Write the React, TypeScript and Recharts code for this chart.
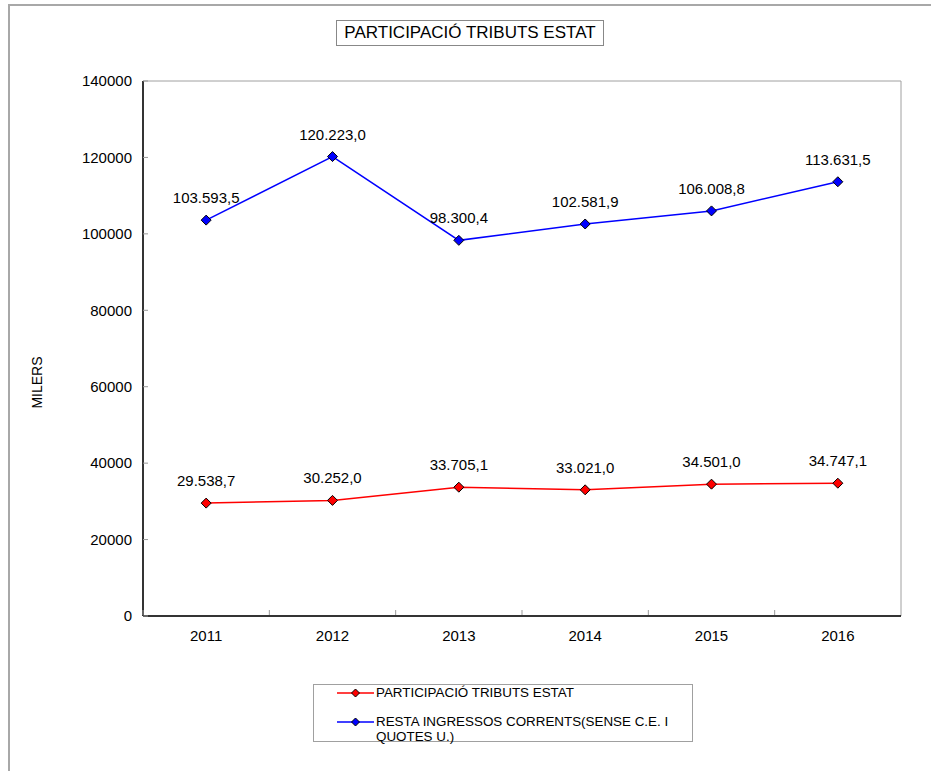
import React from 'react';
import { LineChart, Line, XAxis, YAxis, Legend, LabelList, ReferenceArea } from 'recharts';

const years = ['2011', '2012', '2013', '2014', '2015', '2016'];
const participacio = [29538.7, 30252.0, 33705.1, 33021.0, 34501.0, 34747.1];
const resta = [103593.5, 120223.0, 98300.4, 102581.9, 106008.8, 113631.5];
const yTicks = [0, 20000, 40000, 60000, 80000, 100000, 120000, 140000];
const seriesNames = ['PARTICIPACIÓ TRIBUTS ESTAT', 'RESTA INGRESSOS CORRENTS(SENSE C.E. I QUOTES U.)'];
const seriesColors = ['#ff0000', '#0000ff'];

const data = years.map((y, i) => ({ idx: i, year: y, part: participacio[i], resta: resta[i] }));
const xTicks: number[] = [];
for (let i = -1; i <= 10; i++) xTicks.push(i / 2);

const FONT = '"Liberation Sans", Arial, sans-serif';

function fmt(v: number): string {
  const s = v.toFixed(1);
  const [intPart, dec] = s.split('.');
  const withDots = intPart.replace(/\B(?=(\d{3})+(?!\d))/g, '.');
  return withDots + ',' + dec;
}

const Diamond = (color: string) => (props: any) => {
  const { cx, cy } = props;
  if (cx == null || cy == null) return null;
  const r = 5;
  return (
    <polygon
      points={`${cx},${cy - r} ${cx + r},${cy} ${cx},${cy + r} ${cx - r},${cy}`}
      fill={color}
      stroke="#000"
      strokeWidth={1}
    />
  );
};

const XTick = (props: any) => {
  const { x, y, payload } = props;
  const v = payload.value as number;
  if (Number.isInteger(v)) {
    return (
      <text x={x} y={y + 25} textAnchor="middle" fontSize={15} fontFamily={FONT} fill="#000">
        {years[v]}
      </text>
    );
  }
  return <line x1={x} y1={y - 1} x2={x} y2={y - 6} stroke="#999" strokeWidth={1} />;
};

const LegendContent = () => (
  <div
    style={{
      width: 380,
      height: 58,
      boxSizing: 'border-box',
      border: '1px solid #a0a0a0',
      fontFamily: FONT,
      fontSize: 13.4,
      color: '#000',
      position: 'relative',
    }}
  >
    {seriesNames.map((n, i) => (
      <div
        key={n}
        style={{ position: 'absolute', left: 22, top: i === 0 ? 0 : 29, display: 'flex', alignItems: 'flex-start' }}
      >
        <svg width={40} height={14} style={{ flex: 'none', marginTop: 1 }}>
          <line x1={1} y1={7} x2={38} y2={7} stroke={seriesColors[i]} strokeWidth={1.5} />
          <polygon points="19.5,3 23.5,7 19.5,11 15.5,7" fill={seriesColors[i]} stroke="#000" strokeWidth={1} />
        </svg>
        <div style={{ width: 305, lineHeight: '15px', marginTop: 0 }}>{n}</div>
      </div>
    ))}
  </div>
);

const MilersLabel = (props: any) => {
  const { viewBox } = props;
  const x = viewBox.x - 6;
  const y = viewBox.y + viewBox.height / 2 + 34;
  return (
    <text x={x} y={y} transform={`rotate(-90, ${x}, ${y})`} textAnchor="middle" dominantBaseline="central" fontSize={14} fontFamily={FONT} fill="#000">
      MILERS
    </text>
  );
};

export default function App() {
  return (
    <div style={{ position: 'absolute', left: 0, top: 0, width: 931, height: 771, background: '#fff' }}>
      <div
        style={{
          position: 'absolute',
          left: 8,
          top: 4,
          width: 923,
          height: 767,
          boxSizing: 'border-box',
          borderLeft: '2px solid #a8a8a8',
          borderTop: '2px solid #a8a8a8',
        }}
      />
      <div
        style={{
          position: 'absolute',
          left: 336,
          top: 20,
          width: 268,
          height: 26,
          boxSizing: 'border-box',
          border: '1px solid #888',
          fontFamily: FONT,
          fontSize: 17,
          lineHeight: '24px',
          textAlign: 'center',
          color: '#000',
          background: '#fff',
          whiteSpace: 'nowrap',
        }}
      >
        PARTICIPACIÓ TRIBUTS ESTAT
      </div>
      <div style={{ position: 'absolute', left: 0, top: 0 }}>
        <LineChart width={931} height={771} data={data} margin={{ top: 81, right: 30, bottom: 125, left: 43 }}>
          <ReferenceArea x1={-0.5} x2={5.5} y1={0} y2={140000} fill="none" stroke="#a0a0a0" strokeWidth={1} ifOverflow="extendDomain" />
          <XAxis
            dataKey="idx"
            type="number"
            domain={[-0.5, 5.5]}
            ticks={xTicks}
            interval={0}
            tick={<XTick />}
            tickLine={false}
            tickSize={0}
            tickMargin={0}
            axisLine={{ stroke: '#000', strokeWidth: 1.5 }}
            height={30}
            allowDataOverflow
          />
          <YAxis
            type="number"
            domain={[0, 140000]}
            ticks={yTicks}
            interval={0}
            width={100}
            tickSize={-5}
            tickMargin={16}
            tickLine={{ stroke: '#999' }}
            axisLine={{ stroke: '#000', strokeWidth: 1.5 }}
            tick={{ fontSize: 15, fontFamily: FONT, fill: '#000' }}
            label={<MilersLabel />}
          />
          <Legend
            layout="vertical"
            align="center"
            verticalAlign="middle"
            content={<LegendContent />}
            wrapperStyle={{ left: 313, top: 684, width: 380, height: 58 }}
          />
          <Line
            dataKey="part"
            name={seriesNames[0]}
            stroke={seriesColors[0]}
            strokeWidth={1.5}
            dot={Diamond(seriesColors[0])}
            activeDot={false}
            isAnimationActive={false}
          >
            <LabelList dataKey="part" position="top" offset={17} formatter={(v: any) => fmt(Number(v))} style={{ fontSize: 15, fontFamily: FONT, fill: '#000' }} />
          </Line>
          <Line
            dataKey="resta"
            name={seriesNames[1]}
            stroke={seriesColors[1]}
            strokeWidth={1.5}
            dot={Diamond(seriesColors[1])}
            activeDot={false}
            isAnimationActive={false}
          >
            <LabelList dataKey="resta" position="top" offset={17} formatter={(v: any) => fmt(Number(v))} style={{ fontSize: 15, fontFamily: FONT, fill: '#000' }} />
          </Line>
        </LineChart>
      </div>
    </div>
  );
}
